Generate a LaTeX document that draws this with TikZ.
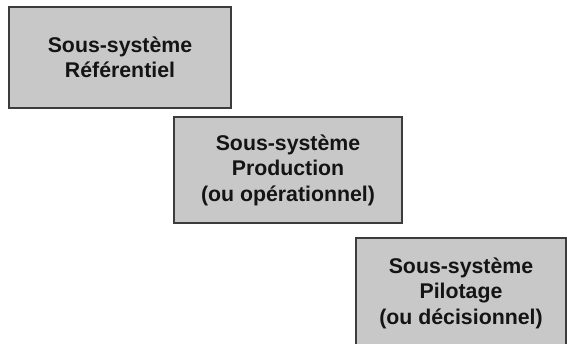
\documentclass[tikz,border=0pt]{standalone}
\usepackage{fontspec}
\setmainfont{Liberation Sans}
\begin{document}
\begin{tikzpicture}[x=1pt,y=-1pt,
  sysbox/.style={draw=boxline, fill=boxfill, line width=1.3pt,
    inner sep=0pt, anchor=center, align=center, text=black!92,
    font=\fontsize{21.3}{25.5}\selectfont\bfseries},
]
\definecolor{boxfill}{HTML}{C8C8C8}
\definecolor{boxline}{HTML}{3C3C3C}
\useasboundingbox (0,0) rectangle (567,344);
\clip (0,0) rectangle (567,344);
\node[sysbox, minimum width=222pt, minimum height=101pt] (ref) at (120,57.5)
  {Sous-système\\Référentiel};
\node[sysbox, minimum width=228pt, minimum height=106pt] (prod) at (288,170)
  {Sous-système\\Production\\(ou opérationnel)};
\node[sysbox, minimum width=210pt, minimum height=110pt] (pil) at (461,293)
  {Sous-système\\Pilotage\\(ou décisionnel)};
\end{tikzpicture}
\end{document}
